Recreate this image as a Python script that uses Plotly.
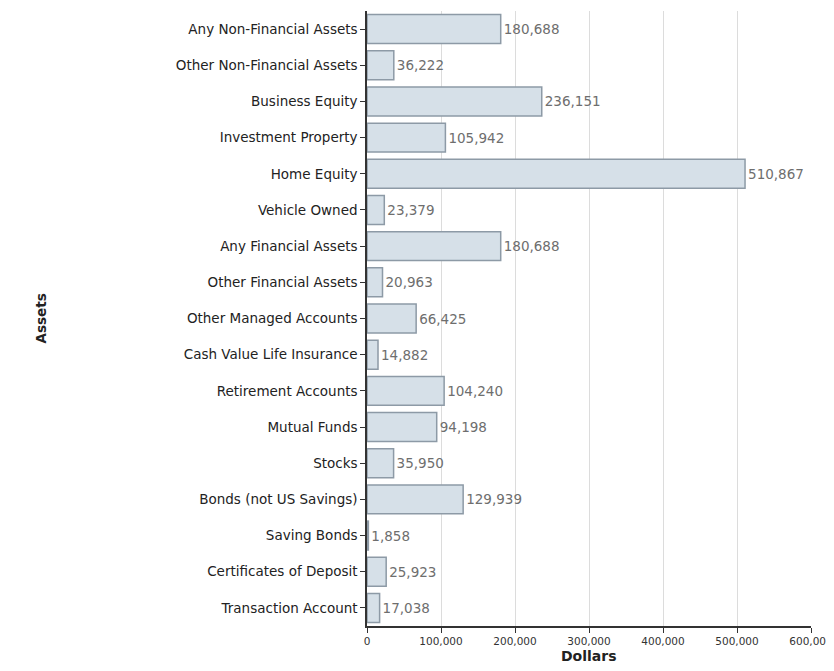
import plotly.graph_objects as go

categories = [
    "Any Non-Financial Assets",
    "Other Non-Financial Assets",
    "Business Equity",
    "Investment Property",
    "Home Equity",
    "Vehicle Owned",
    "Any Financial Assets",
    "Other Financial Assets",
    "Other Managed Accounts",
    "Cash Value Life Insurance",
    "Retirement Accounts",
    "Mutual Funds",
    "Stocks",
    "Bonds (not US Savings)",
    "Saving Bonds",
    "Certificates of Deposit",
    "Transaction Account",
]
values = [180688, 36222, 236151, 105942, 510867, 23379, 180688, 20963, 66425,
          14882, 104240, 94198, 35950, 129939, 1858, 25923, 17038]

x_ticks = [0, 100000, 200000, 300000, 400000, 500000, 600000]
x_tick_labels = ["0", "100,000", "200,000", "300,000", "400,000", "500,000", "600,000"]

FONT = "DejaVu Sans, Verdana, sans-serif"

# page body has an 8px margin: shrink figure so the plot lands where the reference has it
W, H = 826, 663

fig = go.Figure()
fig.add_trace(go.Bar(
    x=values,
    y=categories,
    orientation="h",
    marker=dict(color="#d6e0e8", line=dict(color="#8d9aa6", width=1.5)),
    texttemplate="%{x:,}",
    textposition="outside",
    textfont=dict(family=FONT, size=13.5, color="#6e6e6e"),
    cliponaxis=False,
))

fig.update_layout(
    width=W, height=H,
    margin=dict(l=359, r=23, t=3, b=45, autoexpand=False),
    plot_bgcolor="white",
    paper_bgcolor="white",
    showlegend=False,
    bargap=0.2,
    font=dict(family=FONT, size=12, color="#222222"),
    xaxis=dict(
        range=[0, 600000],
        tickvals=x_ticks,
        ticktext=x_tick_labels,
        tickfont=dict(size=10.5, color="#333333"),
        showgrid=True, gridcolor="#dcdcdc", gridwidth=1,
        showline=True, linecolor="#333333", linewidth=1.5,
        ticks="outside", ticklen=5, tickcolor="#333333",
        zeroline=False,
    ),
    yaxis=dict(
        autorange="reversed",
        tickfont=dict(size=13.5, color="#222222"),
        showline=True, linecolor="#333333", linewidth=1.5,
        ticks="outside", ticklen=5, tickcolor="#333333",
        showgrid=False,
    ),
    annotations=[
        dict(text="<b>Assets</b>", xref="paper", yref="paper",
             x=(32 - 359) / 444, y=0.5, textangle=-90, showarrow=False,
             font=dict(size=13.5, color="#222222"), xanchor="center", yanchor="middle"),
        dict(text="<b>Dollars</b>", xref="paper", yref="paper",
             x=0.5, y=-30 / 615, showarrow=False,
             font=dict(size=14, color="#222222"), xanchor="center", yanchor="middle"),
    ],
)

fig.write_html("out.html")
